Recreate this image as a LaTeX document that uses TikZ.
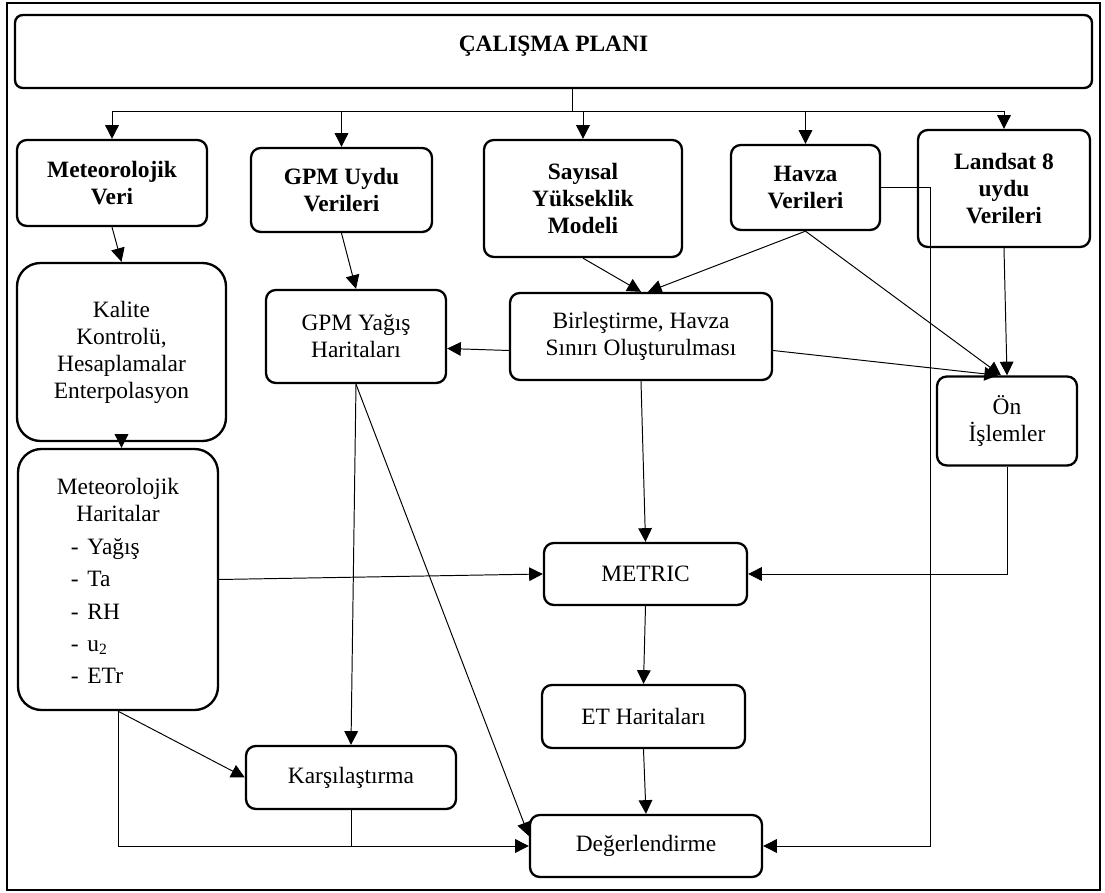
\documentclass[tikz,border=0pt]{standalone}
\usepackage{fontspec}
\setmainfont{Liberation Serif}
\usetikzlibrary{positioning,arrows.meta,calc}
\newcommand\pxu{0.018cm}

\begin{document}
\begin{tikzpicture}[x=0.018cm, y=-0.018cm,
      every node/.style={font=\fontsize{12}{13.8}\selectfont, align=center},
      box/.style      ={draw, rounded corners=5pt, line width=1.2pt, inner sep=2pt},
      bigbox/.style   ={box, rounded corners=12pt},
      head/.style     ={box, font=\fontsize{12}{13.8}\selectfont\bfseries},
      arr/.style      ={-{Triangle[length=7pt, width=7pt]}, line width=0.5pt},
      plain/.style    ={line width=0.5pt},
  ]
  \useasboundingbox (0,0) rectangle (1105,893);
  \draw[line width=0.8pt] (7,3) rectangle (1100,890);

  % - Plan -
  \node[head, rounded corners=4pt, minimum width=1077*\pxu, minimum height=73*\pxu, text depth=8pt]
        (plan) at (553.5,51.5) {ÇALIŞMA PLANI};
  \coordinate (split) at (572,111);

  % - Data sources (row 1) -
  \node[head, minimum width=190*\pxu, minimum height=86*\pxu]  (metveri) at (112,183)     {Meteorolojik\\Veri};
  \node[head, minimum width=181*\pxu, minimum height=84*\pxu]  (gpmveri) at (341.5,190)   {GPM Uydu\\Verileri};
  \node[head, minimum width=198*\pxu, minimum height=117*\pxu] (dem)     at (583,198.5)   {Sayısal\\Yükseklik\\Modeli};
  \node[head, minimum width=149*\pxu, minimum height=85*\pxu]  (havza)   at (805.5,187.5) {Havza\\Verileri};
  \node[head, minimum width=172*\pxu, minimum height=117*\pxu] (landsat) at (1004,188.5)  {Landsat 8\\uydu\\Verileri};

  % - Processing (row 2) -
  \node[bigbox, minimum width=209*\pxu, minimum height=178*\pxu] (kalite)   at (121.5,352)  {Kalite\\Kontrolü,\\Hesaplamalar\\Enterpolasyon};
  \node[box, minimum width=180*\pxu, minimum height=93*\pxu]     (gpmyagis) at (356,336.5)  {GPM Yağış\\Haritaları};
  \node[box, minimum width=262*\pxu, minimum height=87*\pxu]     (birles)   at (641,336.5)  {Birleştirme, Havza\\Sınırı Oluşturulması};
  \node[box, minimum width=140*\pxu, minimum height=89*\pxu]     (onislem)  at (1007,421)   {Ön\\İşlemler};

  % - Maps and model -
  \node[bigbox, minimum width=200*\pxu, minimum height=261*\pxu] (metharita) at (118,579.5)
        {\rule{0pt}{15pt}Meteorolojik\\Haritalar\\[4pt]
         \renewcommand\arraystretch{1.2}%
         \begin{tabular}{@{}l@{\hspace{13pt}}}-\hspace{4.5pt}Yağış\\-\hspace{4.5pt}Ta\\-\hspace{4.5pt}RH\\
           -\hspace{4.5pt}u\textsubscript{2}\\-\hspace{4.5pt}ETr\end{tabular}};
  \node[box, minimum width=203*\pxu, minimum height=62*\pxu] (metric)   at (645.5,574)  {METRIC};
  \node[box, minimum width=203*\pxu, minimum height=63*\pxu] (etharita) at (643.5,716.5) {ET Haritaları};
  \node[box, minimum width=210*\pxu, minimum height=63*\pxu] (karsi)    at (351,777.5)  {Karşılaştırma};
  \node[box, minimum width=232*\pxu, minimum height=62*\pxu] (degerl)   at (646,846)    {Değerlendirme};

  % - Plan -> sources -
  \draw[plain] (plan.south -| split) -- (split);
  \draw[plain] (split -| metveri.north) -- (split -| landsat.north);
  \foreach \n in {metveri,gpmveri,dem,havza,landsat}
    \draw[arr] (split -| \n.north) -- (\n.north);

  % - Sources -> processing -
  \draw[arr] (metveri.south) -- (kalite.north);
  \draw[arr] (gpmveri.south) -- (gpmyagis.north);
  \draw[arr] (dem.south) -- (birles.north);
  \draw[arr] (havza.south) -- ($(birles.north)+(7,0)$);
  \draw[arr] (havza.south) -- ($(onislem.north)+(-6,0)$);
  \draw[arr] ($(birles.east)+(0,14)$) -- ($(onislem.north)+(-9,0)$);
  \draw[arr] (landsat.south) -- (onislem.north);
  \draw[arr] ($(birles.west)+(0,14)$) -- ($(gpmyagis.east)+(0,12)$);
  \draw[arr] (havza.east) -| ($(degerl.east)+(167,0)$) -- (degerl.east);

  % - Into METRIC -
  \draw[arr] (kalite.south) -- (kalite.south |- metharita.north);
  \draw[arr] (birles.south) -- (metric.north);
  \draw[arr] (onislem.south) |- (metric.east);
  \draw[arr] (metharita.east) -- (metric.west);

  % - Outputs -
  \draw[arr] (metric.south) -- (etharita.north);
  \draw[arr] (etharita.south) -- (degerl.north);
  \draw[arr] (gpmyagis.south) -- (karsi.north);
  \draw[arr] (gpmyagis.south) -- ($(degerl.west)+(0,-10)$);
  \draw[arr] (metharita.south) -- (karsi.west);
  \draw[arr] (metharita.south) |- (degerl.west);
  \draw[plain] (karsi.south) -- (karsi.south |- degerl.west);
\end{tikzpicture}
\end{document}
